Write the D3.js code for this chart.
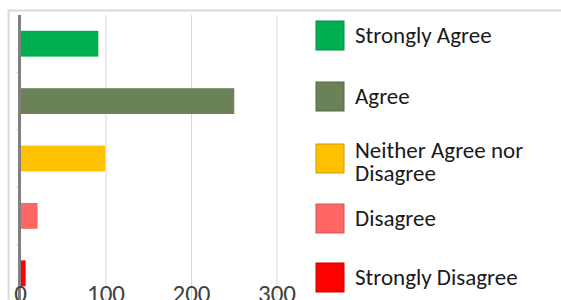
<!DOCTYPE html>
<html>
<head>
<meta charset="utf-8">
<script src="https://cdn.jsdelivr.net/npm/d3@7"></script>
<style>
  body { margin: 0; background: #fff; }
  svg { display: block; font-family: Carlito, "Open Sans", "Noto Sans", sans-serif; }
</style>
</head>
<body>
<svg id="chart" width="561" height="300"></svg>
<script>
// responses per answer
const categories = ["Strongly Agree", "Agree", "Neither Agree nor Disagree", "Disagree", "Strongly Disagree"];
const values = [91, 250, 99, 20, 6];
const colors = ["#00b050", "#6b8158", "#ffc000", "#ff6666", "#ff0000"];
const legendLines = [["Strongly Agree"], ["Agree"], ["Neither Agree nor", "Disagree"], ["Disagree"], ["Strongly Disagree"]];
const xTicks = [0, 100, 200, 300];

const svg = d3.select("#chart");

// light frame around the chart area
svg.append("path")
    .attr("d", "M8.5,300 V10.5 H561")
    .attr("fill", "none")
    .attr("stroke", "#d9d9d9")
    .attr("stroke-width", 2);

const x = d3.scaleLinear().domain([0, 300]).range([20.5, 277]);
const y = d3.scaleBand().domain(categories).range([15, 302])
    .paddingInner(0.55).paddingOuter(0.275);

// gridlines
svg.append("g").selectAll("line")
    .data(xTicks.filter(d => d > 0))
    .enter().append("line")
    .attr("x1", d => x(d)).attr("x2", d => x(d))
    .attr("y1", 15).attr("y2", 300)
    .attr("stroke", "#d9d9d9").attr("stroke-width", 1);

// bars
svg.append("g").selectAll("rect")
    .data(categories)
    .enter().append("rect")
    .attr("x", x(0))
    .attr("y", d => y(d))
    .attr("width", (d, i) => x(values[i]) - x(0))
    .attr("height", y.bandwidth())
    .attr("fill", (d, i) => colors[i]);

// category separators on the axis
const step = y.step();
svg.append("g").selectAll("line")
    .data(d3.range(1, categories.length))
    .enter().append("line")
    .attr("x1", 16).attr("x2", 20)
    .attr("y1", k => 15 + k * step).attr("y2", k => 15 + k * step)
    .attr("stroke", "#e8d8c8").attr("stroke-width", 1);

// vertical axis line
svg.append("line")
    .attr("x1", x(0) - 1).attr("x2", x(0) - 1)
    .attr("y1", 15).attr("y2", 300)
    .attr("stroke", "#808080").attr("stroke-width", 3);

// x tick labels
svg.append("g").selectAll("text")
    .data(xTicks)
    .enter().append("text")
    .attr("x", d => x(d))
    .attr("y", 302)
    .attr("text-anchor", "middle")
    .attr("font-size", 25)
    .attr("fill", "#404040")
    .text(d => d);

// legend
const legendY = [21, 82, 144, 204, 263];
const legend = svg.append("g");
categories.forEach((c, i) => {
    legend.append("rect")
        .attr("x", 316).attr("y", legendY[i])
        .attr("width", 28).attr("height", 29)
        .attr("fill", colors[i])
        .attr("stroke", d3.color(colors[i]).darker(0.6))
        .attr("stroke-width", 1);
    const lines = legendLines[i];
    const cy = legendY[i] + 14 + (lines.length > 1 ? 3 : 0);
    lines.forEach((t, j) => {
        legend.append("text")
            .attr("x", 355)
            .attr("y", cy + (j - (lines.length - 1) / 2) * 23)
            .attr("dy", "0.35em")
            .attr("font-size", 23)
            .attr("fill", "#1a1a1a")
            .text(t);
    });
});
</script>
</body>
</html>
